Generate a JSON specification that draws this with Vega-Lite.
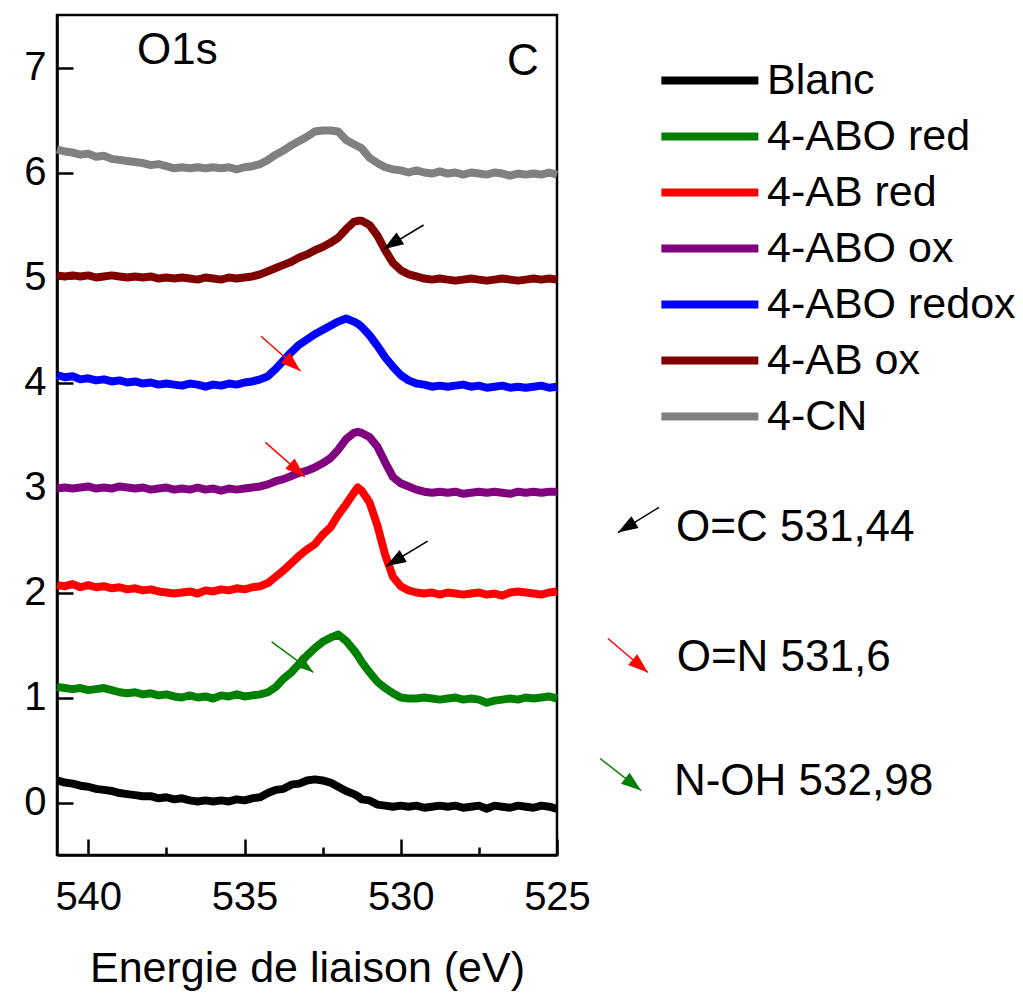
{
  "$schema": "https://vega.github.io/schema/vega-lite/v6.json",
  "width": 500,
  "height": 840,
  "padding": {"left": 23, "top": 15, "right": 5, "bottom": 5},
  "background": "white",
  "config": {
    "view": {"stroke": "black", "strokeWidth": 2.5},
    "font": "Liberation Sans",
    "axis": {"grid": false, "domainColor": "black", "domainWidth": 2.5, "tickColor": "black", "tickWidth": 2.5, "labelColor": "black", "titleColor": "black", "labelFont": "Liberation Sans", "titleFont": "Liberation Sans", "titleFontWeight": "normal", "labelFlush": false, "labelOverlap": false}
  },
  "layer": [
    {
      "data": {"values": [
        {"e":541.00,"Blanc":0.21,"4-ABO red":1.10,"4-AB red":2.07,"4-ABO ox":2.99,"4-ABO redox":4.07,"4-AB ox":5.02,"4-CN":6.22},
        {"e":540.75,"Blanc":0.19,"4-ABO red":1.09,"4-AB red":2.06,"4-ABO ox":3.00,"4-ABO redox":4.05,"4-AB ox":5.01,"4-CN":6.20},
        {"e":540.50,"Blanc":0.18,"4-ABO red":1.08,"4-AB red":2.08,"4-ABO ox":2.99,"4-ABO redox":4.06,"4-AB ox":5.02,"4-CN":6.19},
        {"e":540.25,"Blanc":0.16,"4-ABO red":1.09,"4-AB red":2.05,"4-ABO ox":3.00,"4-ABO redox":4.03,"4-AB ox":5.01,"4-CN":6.17},
        {"e":540.00,"Blanc":0.15,"4-ABO red":1.07,"4-AB red":2.07,"4-ABO ox":3.01,"4-ABO redox":4.04,"4-AB ox":5.02,"4-CN":6.18},
        {"e":539.75,"Blanc":0.13,"4-ABO red":1.08,"4-AB red":2.05,"4-ABO ox":2.99,"4-ABO redox":4.02,"4-AB ox":5.00,"4-CN":6.15},
        {"e":539.50,"Blanc":0.12,"4-ABO red":1.09,"4-AB red":2.06,"4-ABO ox":3.00,"4-ABO redox":4.03,"4-AB ox":5.01,"4-CN":6.16},
        {"e":539.25,"Blanc":0.11,"4-ABO red":1.07,"4-AB red":2.04,"4-ABO ox":2.99,"4-ABO redox":4.01,"4-AB ox":5.02,"4-CN":6.13},
        {"e":539.00,"Blanc":0.09,"4-ABO red":1.05,"4-AB red":2.05,"4-ABO ox":3.01,"4-ABO redox":4.02,"4-AB ox":5.01,"4-CN":6.12},
        {"e":538.75,"Blanc":0.08,"4-ABO red":1.04,"4-AB red":2.03,"4-ABO ox":3.00,"4-ABO redox":4.00,"4-AB ox":5.00,"4-CN":6.11},
        {"e":538.50,"Blanc":0.07,"4-ABO red":1.05,"4-AB red":2.04,"4-ABO ox":2.99,"4-ABO redox":4.01,"4-AB ox":5.01,"4-CN":6.10},
        {"e":538.25,"Blanc":0.06,"4-ABO red":1.03,"4-AB red":2.02,"4-ABO ox":3.00,"4-ABO redox":3.99,"4-AB ox":5.00,"4-CN":6.09},
        {"e":538.00,"Blanc":0.06,"4-ABO red":1.04,"4-AB red":2.03,"4-ABO ox":2.98,"4-ABO redox":4.00,"4-AB ox":5.01,"4-CN":6.07},
        {"e":537.75,"Blanc":0.04,"4-ABO red":1.02,"4-AB red":2.01,"4-ABO ox":2.99,"4-ABO redox":3.98,"4-AB ox":4.99,"4-CN":6.08},
        {"e":537.50,"Blanc":0.05,"4-ABO red":1.03,"4-AB red":2.00,"4-ABO ox":3.00,"4-ABO redox":3.99,"4-AB ox":5.00,"4-CN":6.06},
        {"e":537.25,"Blanc":0.03,"4-ABO red":1.01,"4-AB red":1.99,"4-ABO ox":2.98,"4-ABO redox":3.98,"4-AB ox":4.99,"4-CN":6.04},
        {"e":537.00,"Blanc":0.04,"4-ABO red":1.00,"4-AB red":2.00,"4-ABO ox":2.99,"4-ABO redox":3.97,"4-AB ox":5.00,"4-CN":6.05},
        {"e":536.75,"Blanc":0.02,"4-ABO red":1.02,"4-AB red":2.01,"4-ABO ox":2.98,"4-ABO redox":3.99,"4-AB ox":4.99,"4-CN":6.04},
        {"e":536.50,"Blanc":0.01,"4-ABO red":1.00,"4-AB red":1.99,"4-ABO ox":3.00,"4-ABO redox":3.98,"4-AB ox":4.98,"4-CN":6.05},
        {"e":536.25,"Blanc":0.02,"4-ABO red":1.01,"4-AB red":2.02,"4-ABO ox":2.98,"4-ABO redox":3.96,"4-AB ox":5.00,"4-CN":6.04},
        {"e":536.00,"Blanc":0.01,"4-ABO red":0.99,"4-AB red":2.01,"4-ABO ox":2.99,"4-ABO redox":3.98,"4-AB ox":4.99,"4-CN":6.05},
        {"e":535.75,"Blanc":0.02,"4-ABO red":1.02,"4-AB red":2.03,"4-ABO ox":2.97,"4-ABO redox":3.97,"4-AB ox":4.98,"4-CN":6.04},
        {"e":535.50,"Blanc":0.01,"4-ABO red":1.01,"4-AB red":2.02,"4-ABO ox":2.99,"4-ABO redox":3.99,"4-AB ox":5.00,"4-CN":6.05},
        {"e":535.25,"Blanc":0.03,"4-ABO red":1.03,"4-AB red":2.04,"4-ABO ox":2.98,"4-ABO redox":3.98,"4-AB ox":4.99,"4-CN":6.03},
        {"e":535.00,"Blanc":0.02,"4-ABO red":1.01,"4-AB red":2.03,"4-ABO ox":2.99,"4-ABO redox":4.00,"4-AB ox":5.00,"4-CN":6.05},
        {"e":534.75,"Blanc":0.04,"4-ABO red":1.02,"4-AB red":2.05,"4-ABO ox":3.00,"4-ABO redox":4.01,"4-AB ox":5.01,"4-CN":6.06},
        {"e":534.50,"Blanc":0.05,"4-ABO red":1.03,"4-AB red":2.06,"4-ABO ox":3.01,"4-ABO redox":4.03,"4-AB ox":5.03,"4-CN":6.08},
        {"e":534.25,"Blanc":0.09,"4-ABO red":1.05,"4-AB red":2.09,"4-ABO ox":3.03,"4-ABO redox":4.06,"4-AB ox":5.06,"4-CN":6.12},
        {"e":534.00,"Blanc":0.12,"4-ABO red":1.10,"4-AB red":2.15,"4-ABO ox":3.06,"4-ABO redox":4.13,"4-AB ox":5.09,"4-CN":6.17},
        {"e":533.75,"Blanc":0.13,"4-ABO red":1.18,"4-AB red":2.21,"4-ABO ox":3.08,"4-ABO redox":4.21,"4-AB ox":5.12,"4-CN":6.21},
        {"e":533.50,"Blanc":0.17,"4-ABO red":1.24,"4-AB red":2.28,"4-ABO ox":3.11,"4-ABO redox":4.29,"4-AB ox":5.15,"4-CN":6.26},
        {"e":533.25,"Blanc":0.18,"4-ABO red":1.32,"4-AB red":2.35,"4-ABO ox":3.14,"4-ABO redox":4.36,"4-AB ox":5.19,"4-CN":6.30},
        {"e":533.00,"Blanc":0.21,"4-ABO red":1.40,"4-AB red":2.41,"4-ABO ox":3.16,"4-ABO redox":4.41,"4-AB ox":5.22,"4-CN":6.34},
        {"e":532.75,"Blanc":0.22,"4-ABO red":1.47,"4-AB red":2.46,"4-ABO ox":3.19,"4-ABO redox":4.46,"4-AB ox":5.26,"4-CN":6.39},
        {"e":532.50,"Blanc":0.21,"4-ABO red":1.53,"4-AB red":2.55,"4-ABO ox":3.23,"4-ABO redox":4.50,"4-AB ox":5.29,"4-CN":6.40},
        {"e":532.25,"Blanc":0.19,"4-ABO red":1.57,"4-AB red":2.62,"4-ABO ox":3.28,"4-ABO redox":4.54,"4-AB ox":5.33,"4-CN":6.40},
        {"e":532.00,"Blanc":0.15,"4-ABO red":1.60,"4-AB red":2.74,"4-ABO ox":3.36,"4-ABO redox":4.58,"4-AB ox":5.38,"4-CN":6.39},
        {"e":531.75,"Blanc":0.11,"4-ABO red":1.54,"4-AB red":2.84,"4-ABO ox":3.46,"4-ABO redox":4.61,"4-AB ox":5.46,"4-CN":6.31},
        {"e":531.50,"Blanc":0.08,"4-ABO red":1.45,"4-AB red":2.95,"4-ABO ox":3.52,"4-ABO redox":4.58,"4-AB ox":5.53,"4-CN":6.27},
        {"e":531.375,"Blanc":0.06,"4-ABO red":1.40,"4-AB red":3.00,"4-ABO ox":3.53,"4-ABO redox":4.56,"4-AB ox":5.54,"4-CN":6.25},
        {"e":531.25,"Blanc":0.03,"4-ABO red":1.34,"4-AB red":2.97,"4-ABO ox":3.52,"4-ABO redox":4.53,"4-AB ox":5.54,"4-CN":6.23},
        {"e":531.00,"Blanc":0.02,"4-ABO red":1.24,"4-AB red":2.86,"4-ABO ox":3.48,"4-ABO redox":4.45,"4-AB ox":5.50,"4-CN":6.14},
        {"e":530.75,"Blanc":-0.02,"4-ABO red":1.15,"4-AB red":2.64,"4-ABO ox":3.39,"4-ABO redox":4.35,"4-AB ox":5.40,"4-CN":6.09},
        {"e":530.50,"Blanc":-0.03,"4-ABO red":1.09,"4-AB red":2.36,"4-ABO ox":3.24,"4-ABO redox":4.24,"4-AB ox":5.26,"4-CN":6.05},
        {"e":530.25,"Blanc":-0.04,"4-ABO red":1.04,"4-AB red":2.15,"4-ABO ox":3.10,"4-ABO redox":4.15,"4-AB ox":5.14,"4-CN":6.03},
        {"e":530.00,"Blanc":-0.03,"4-ABO red":1.00,"4-AB red":2.06,"4-ABO ox":3.04,"4-ABO redox":4.07,"4-AB ox":5.07,"4-CN":6.02},
        {"e":529.75,"Blanc":-0.04,"4-ABO red":0.99,"4-AB red":2.02,"4-ABO ox":3.01,"4-ABO redox":4.02,"4-AB ox":5.03,"4-CN":6.00},
        {"e":529.50,"Blanc":-0.03,"4-ABO red":0.99,"4-AB red":2.00,"4-ABO ox":2.98,"4-ABO redox":3.99,"4-AB ox":5.01,"4-CN":6.02},
        {"e":529.25,"Blanc":-0.05,"4-ABO red":1.00,"4-AB red":1.99,"4-ABO ox":2.96,"4-ABO redox":3.98,"4-AB ox":4.99,"4-CN":6.00},
        {"e":529.00,"Blanc":-0.04,"4-ABO red":0.99,"4-AB red":2.00,"4-ABO ox":2.95,"4-ABO redox":3.96,"4-AB ox":4.98,"4-CN":5.99},
        {"e":528.75,"Blanc":-0.03,"4-ABO red":0.98,"4-AB red":1.98,"4-ABO ox":2.96,"4-ABO redox":3.97,"4-AB ox":4.99,"4-CN":6.01},
        {"e":528.50,"Blanc":-0.04,"4-ABO red":0.99,"4-AB red":2.00,"4-ABO ox":2.95,"4-ABO redox":3.96,"4-AB ox":4.98,"4-CN":5.99},
        {"e":528.25,"Blanc":-0.03,"4-ABO red":1.00,"4-AB red":1.99,"4-ABO ox":2.96,"4-ABO redox":3.97,"4-AB ox":4.97,"4-CN":6.00},
        {"e":528.00,"Blanc":-0.05,"4-ABO red":0.98,"4-AB red":1.98,"4-ABO ox":2.94,"4-ABO redox":3.98,"4-AB ox":4.98,"4-CN":5.98},
        {"e":527.75,"Blanc":-0.04,"4-ABO red":0.99,"4-AB red":1.99,"4-ABO ox":2.95,"4-ABO redox":3.96,"4-AB ox":4.99,"4-CN":6.00},
        {"e":527.50,"Blanc":-0.03,"4-ABO red":0.98,"4-AB red":2.00,"4-ABO ox":2.96,"4-ABO redox":3.97,"4-AB ox":4.98,"4-CN":5.99},
        {"e":527.25,"Blanc":-0.06,"4-ABO red":0.95,"4-AB red":1.98,"4-ABO ox":2.95,"4-ABO redox":3.95,"4-AB ox":4.97,"4-CN":5.98},
        {"e":527.00,"Blanc":-0.03,"4-ABO red":0.97,"4-AB red":1.99,"4-ABO ox":2.96,"4-ABO redox":3.96,"4-AB ox":4.98,"4-CN":6.00},
        {"e":526.75,"Blanc":-0.04,"4-ABO red":0.98,"4-AB red":1.97,"4-ABO ox":2.95,"4-ABO redox":3.97,"4-AB ox":4.99,"4-CN":5.99},
        {"e":526.50,"Blanc":-0.05,"4-ABO red":0.99,"4-AB red":2.00,"4-ABO ox":2.94,"4-ABO redox":3.95,"4-AB ox":4.98,"4-CN":5.97},
        {"e":526.25,"Blanc":-0.03,"4-ABO red":0.98,"4-AB red":2.01,"4-ABO ox":2.96,"4-ABO redox":3.96,"4-AB ox":4.97,"4-CN":5.99},
        {"e":526.00,"Blanc":-0.04,"4-ABO red":1.00,"4-AB red":2.00,"4-ABO ox":2.95,"4-ABO redox":3.95,"4-AB ox":4.98,"4-CN":5.98},
        {"e":525.75,"Blanc":-0.05,"4-ABO red":0.99,"4-AB red":1.99,"4-ABO ox":2.96,"4-ABO redox":3.96,"4-AB ox":4.99,"4-CN":5.99},
        {"e":525.50,"Blanc":-0.03,"4-ABO red":1.00,"4-AB red":1.98,"4-ABO ox":2.95,"4-ABO redox":3.97,"4-AB ox":4.98,"4-CN":5.98},
        {"e":525.25,"Blanc":-0.04,"4-ABO red":1.01,"4-AB red":2.00,"4-ABO ox":2.96,"4-ABO redox":3.95,"4-AB ox":4.99,"4-CN":6.00},
        {"e":525.00,"Blanc":-0.06,"4-ABO red":0.99,"4-AB red":2.01,"4-ABO ox":2.96,"4-ABO redox":3.96,"4-AB ox":4.98,"4-CN":5.98}
      ]},
      "transform": [{"fold": ["Blanc", "4-ABO red", "4-AB red", "4-ABO ox", "4-ABO redox", "4-AB ox", "4-CN"], "as": ["series", "value"]}],
      "mark": {"type": "line", "strokeWidth": 8, "strokeJoin": "round"},
      "encoding": {
        "x": {"field": "e", "type": "quantitative", "scale": {"domain": [525, 541], "reverse": true, "nice": false, "zero": false},
          "axis": {"title": "Energie de liaison (eV)", "format": "d", "values": [540, 537.5, 535, 532.5, 530, 527.5, 525], "labelExpr": "datum.value % 5 === 0 ? datum.label : ''",
            "tickSize": {"condition": {"test": "datum.value % 5 === 0", "value": -16}, "value": -8},
            "labelPadding": 38, "labelFontSize": 40, "titleFontSize": 43, "titlePadding": 22}},
        "y": {"field": "value", "type": "quantitative", "scale": {"domain": [-0.5, 7.5], "nice": false, "zero": false},
          "axis": {"title": null, "format": "d", "values": [0, 0.5, 1, 1.5, 2, 2.5, 3, 3.5, 4, 4.5, 5, 5.5, 6, 6.5, 7], "labelExpr": "datum.value % 1 === 0 ? datum.label : ''",
            "tickSize": {"condition": {"test": "datum.value % 1 === 0", "value": -16}, "value": -8},
            "labelPadding": 27, "labelFontSize": 40}},
        "color": {"field": "series", "type": "nominal", "sort": ["Blanc", "4-ABO red", "4-AB red", "4-ABO ox", "4-ABO redox", "4-AB ox", "4-CN"],
          "scale": {"domain": ["Blanc", "4-ABO red", "4-AB red", "4-ABO ox", "4-ABO redox", "4-AB ox", "4-CN"], "range": ["#000000", "#008000", "#ff0000", "#800080", "#0000ff", "#800000", "#808080"]},
          "legend": {"title": null, "orient": "none", "legendX": 595, "legendY": 44, "symbolType": "M-1,0H7", "symbolSize": 588, "symbolStrokeWidth": 8, "labelFontSize": 43, "labelFont": "Liberation Sans", "labelColor": "black", "labelOffset": 72, "labelLimit": 500, "rowPadding": 12}}
      }
    },
    {"data": {"values": [{}]}, "mark": {"type": "rule", "color": "black", "strokeWidth": 1.5}, "encoding": {"x": {"datum": 529.27, "type": "quantitative"}, "y": {"datum": 5.50, "type": "quantitative"}, "x2": {"datum": 530.55}, "y2": {"datum": 5.27}}},
    {"data": {"values": [{}]}, "mark": {"type": "point", "shape": "M0,0L-0.35,1L0.35,1Z", "size": 1600, "angle": 237, "filled": true, "color": "black", "opacity": 1, "strokeWidth": 0}, "encoding": {"x": {"datum": 530.55, "type": "quantitative"}, "y": {"datum": 5.27, "type": "quantitative"}}},
    {"data": {"values": [{}]}, "mark": {"type": "rule", "color": "#ff0000", "strokeWidth": 1.5}, "encoding": {"x": {"datum": 534.47, "type": "quantitative"}, "y": {"datum": 4.44, "type": "quantitative"}, "x2": {"datum": 533.21}, "y2": {"datum": 4.11}}},
    {"data": {"values": [{}]}, "mark": {"type": "point", "shape": "M0,0L-0.35,1L0.35,1Z", "size": 1600, "angle": 131, "filled": true, "color": "#ff0000", "opacity": 1, "strokeWidth": 0}, "encoding": {"x": {"datum": 533.21, "type": "quantitative"}, "y": {"datum": 4.11, "type": "quantitative"}}},
    {"data": {"values": [{}]}, "mark": {"type": "rule", "color": "#ff0000", "strokeWidth": 1.5}, "encoding": {"x": {"datum": 534.33, "type": "quantitative"}, "y": {"datum": 3.43, "type": "quantitative"}, "x2": {"datum": 533.07}, "y2": {"datum": 3.10}}},
    {"data": {"values": [{}]}, "mark": {"type": "point", "shape": "M0,0L-0.35,1L0.35,1Z", "size": 1600, "angle": 132, "filled": true, "color": "#ff0000", "opacity": 1, "strokeWidth": 0}, "encoding": {"x": {"datum": 533.07, "type": "quantitative"}, "y": {"datum": 3.10, "type": "quantitative"}}},
    {"data": {"values": [{}]}, "mark": {"type": "rule", "color": "black", "strokeWidth": 1.5}, "encoding": {"x": {"datum": 529.14, "type": "quantitative"}, "y": {"datum": 2.49, "type": "quantitative"}, "x2": {"datum": 530.47}, "y2": {"datum": 2.25}}},
    {"data": {"values": [{}]}, "mark": {"type": "point", "shape": "M0,0L-0.35,1L0.35,1Z", "size": 1600, "angle": 239, "filled": true, "color": "black", "opacity": 1, "strokeWidth": 0}, "encoding": {"x": {"datum": 530.47, "type": "quantitative"}, "y": {"datum": 2.25, "type": "quantitative"}}},
    {"data": {"values": [{}]}, "mark": {"type": "rule", "color": "#008000", "strokeWidth": 1.5}, "encoding": {"x": {"datum": 534.13, "type": "quantitative"}, "y": {"datum": 1.53, "type": "quantitative"}, "x2": {"datum": 532.80}, "y2": {"datum": 1.24}}},
    {"data": {"values": [{}]}, "mark": {"type": "point", "shape": "M0,0L-0.35,1L0.35,1Z", "size": 1600, "angle": 127, "filled": true, "color": "#008000", "opacity": 1, "strokeWidth": 0}, "encoding": {"x": {"datum": 532.80, "type": "quantitative"}, "y": {"datum": 1.24, "type": "quantitative"}}},
    {"data": {"values": [{}]}, "mark": {"type": "rule", "color": "black", "strokeWidth": 1.5}, "encoding": {"x": {"datum": 521.74, "type": "quantitative"}, "y": {"datum": 2.81, "type": "quantitative"}, "x2": {"datum": 523.05}, "y2": {"datum": 2.571}}},
    {"data": {"values": [{}]}, "mark": {"type": "point", "shape": "M0,0L-0.35,1L0.35,1Z", "size": 1600, "angle": 238.6, "filled": true, "color": "black", "opacity": 1, "strokeWidth": 0}, "encoding": {"x": {"datum": 523.05, "type": "quantitative"}, "y": {"datum": 2.571, "type": "quantitative"}}},
    {"data": {"values": [{}]}, "mark": {"type": "rule", "color": "#ff0000", "strokeWidth": 1.5}, "encoding": {"x": {"datum": 523.37, "type": "quantitative"}, "y": {"datum": 1.562, "type": "quantitative"}, "x2": {"datum": 522.09}, "y2": {"datum": 1.238}}},
    {"data": {"values": [{}]}, "mark": {"type": "point", "shape": "M0,0L-0.35,1L0.35,1Z", "size": 1600, "angle": 130.4, "filled": true, "color": "#ff0000", "opacity": 1, "strokeWidth": 0}, "encoding": {"x": {"datum": 522.09, "type": "quantitative"}, "y": {"datum": 1.238, "type": "quantitative"}}},
    {"data": {"values": [{}]}, "mark": {"type": "rule", "color": "#008000", "strokeWidth": 1.5}, "encoding": {"x": {"datum": 523.62, "type": "quantitative"}, "y": {"datum": 0.419, "type": "quantitative"}, "x2": {"datum": 522.31}, "y2": {"datum": 0.114}}},
    {"data": {"values": [{}]}, "mark": {"type": "point", "shape": "M0,0L-0.35,1L0.35,1Z", "size": 1600, "angle": 128, "filled": true, "color": "#008000", "opacity": 1, "strokeWidth": 0}, "encoding": {"x": {"datum": 522.31, "type": "quantitative"}, "y": {"datum": 0.114, "type": "quantitative"}}},
    {"data": {"values": [{}]}, "mark": {"type": "text", "text": "O1s", "font": "Liberation Sans", "fontSize": 44, "align": "left", "baseline": "alphabetic", "color": "black"}, "encoding": {"x": {"datum": 538.44, "type": "quantitative"}, "y": {"datum": 7.03, "type": "quantitative"}}},
    {"data": {"values": [{}]}, "mark": {"type": "text", "text": "C", "font": "Liberation Sans", "fontSize": 44, "align": "right", "baseline": "alphabetic", "color": "black"}, "encoding": {"x": {"datum": 525.58, "type": "quantitative"}, "y": {"datum": 6.93, "type": "quantitative"}}},
    {"data": {"values": [{}]}, "mark": {"type": "text", "text": "O=C 531,44", "font": "Liberation Sans", "fontSize": 44, "align": "left", "baseline": "alphabetic", "color": "black"}, "encoding": {"x": {"datum": 521.19, "type": "quantitative"}, "y": {"datum": 2.495, "type": "quantitative"}}},
    {"data": {"values": [{}]}, "mark": {"type": "text", "text": "O=N 531,6", "font": "Liberation Sans", "fontSize": 44, "align": "left", "baseline": "alphabetic", "color": "black"}, "encoding": {"x": {"datum": 521.17, "type": "quantitative"}, "y": {"datum": 1.25, "type": "quantitative"}}},
    {"data": {"values": [{}]}, "mark": {"type": "text", "text": "N-OH 532,98", "font": "Liberation Sans", "fontSize": 44, "align": "left", "baseline": "alphabetic", "color": "black"}, "encoding": {"x": {"datum": 521.26, "type": "quantitative"}, "y": {"datum": 0.076, "type": "quantitative"}}}
  ]
}
